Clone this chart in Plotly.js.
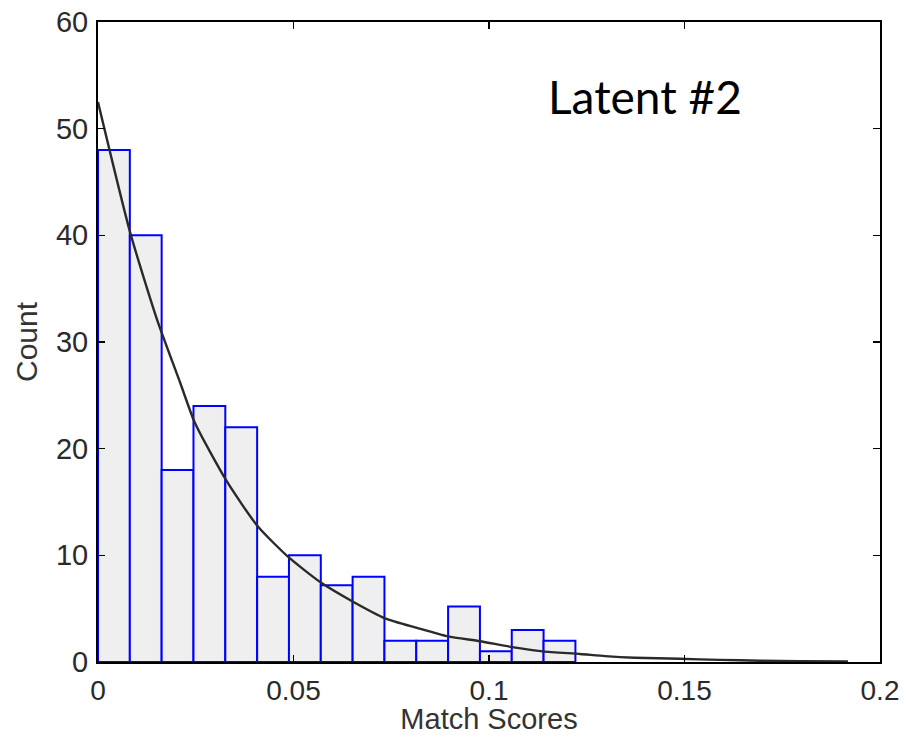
<!DOCTYPE html>
<html>
<head>
<meta charset="utf-8">
<script src="https://cdn.plot.ly/plotly-3.0.1.min.js"></script>
<style>
  html, body { margin: 0; padding: 0; background: #ffffff; }
  #chart { width: 903px; height: 735px; }
</style>
</head>
<body>
<div id="chart"></div>
<script>
// Histogram bins (match score bin centres) and counts
const binCenters = [0.00407, 0.01221, 0.02035, 0.02849, 0.03663, 0.04477, 0.05291, 0.06105,
                    0.06919, 0.07733, 0.08547, 0.09361, 0.10175, 0.10989, 0.11803];
const binWidth = 0.00814;
const counts = [48, 40, 18, 24, 22, 8, 10, 7.2, 8, 2, 2, 5.2, 1, 3, 2];

// Fitted curve
const fitX = [0, 0.0082, 0.0151, 0.021, 0.0248, 0.033, 0.0409, 0.0488, 0.057, 0.065, 0.0734,
              0.0816, 0.0895, 0.0977, 0.1059, 0.1138, 0.1233, 0.1297, 0.1373, 0.1488,
              0.159, 0.1693, 0.1795, 0.1918];
const fitY = [52.5, 40.3, 32.1, 26.2, 22.4, 16.9, 12.7, 9.8, 7.45, 5.7, 4.1,
              3.2, 2.4, 1.95, 1.4, 1.0, 0.75, 0.55, 0.4, 0.3,
              0.2, 0.12, 0.08, 0.05];

// Axis ticks
const xTickVals = [0, 0.05, 0.1, 0.15, 0.2];
const xTickText = ['0', '0.05', '0.1', '0.15', '0.2'];
const yTickVals = [0, 10, 20, 30, 40, 50, 60];
const yTickText = ['0', '10', '20', '30', '40', '50', '60'];

const traces = [
  {
    type: 'bar',
    x: binCenters,
    y: counts,
    width: binCenters.map(() => binWidth),
    marker: { color: '#efefef', line: { color: '#0000ff', width: 2 } },
    hoverinfo: 'x+y',
    showlegend: false
  },
  {
    type: 'scatter',
    mode: 'lines',
    x: fitX,
    y: fitY,
    line: { color: '#2a2a2a', width: 2.4, shape: 'spline', smoothing: 0.6 },
    showlegend: false
  }
];

const FONT = 'Liberation Sans, Arial, Helvetica, sans-serif';

const layout = {
  width: 903,
  height: 735,
  margin: { l: 98, r: 23, t: 22, b: 73 },
  paper_bgcolor: '#ffffff',
  plot_bgcolor: '#ffffff',
  bargap: 0,
  xaxis: {
    range: [0, 0.2],
    tickvals: xTickVals,
    ticktext: xTickText,
    ticks: 'inside',
    ticklen: 7,
    tickwidth: 1.5,
    tickcolor: '#000',
    showline: true,
    linecolor: '#000',
    linewidth: 2,
    mirror: 'ticks',
    showgrid: false,
    zeroline: false,
    automargin: false,
    ticklabelstandoff: 2,
    tickfont: { family: FONT, size: 28, color: '#2a2a2a' },
    title: { text: 'Match Scores', font: { family: FONT, size: 29, color: '#333' }, standoff: 4 }
  },
  yaxis: {
    range: [0, 60],
    tickvals: yTickVals,
    ticktext: yTickText,
    ticks: 'inside',
    ticklen: 7,
    tickwidth: 1.5,
    tickcolor: '#000',
    showline: true,
    linecolor: '#000',
    linewidth: 2,
    mirror: 'ticks',
    showgrid: false,
    zeroline: false,
    automargin: false,
    ticklabelstandoff: 2,
    tickfont: { family: FONT, size: 29, color: '#2a2a2a' },
    title: { text: 'Count', font: { family: FONT, size: 30, color: '#333' }, standoff: 9 }
  },
  annotations: [
    {
      text: 'Latent #2',
      xref: 'paper', yref: 'paper',
      x: 0.70, y: 0.884,
      xanchor: 'center', yanchor: 'middle',
      showarrow: false,
      font: { family: 'Lato, Open Sans, sans-serif', size: 46, color: '#000' }
    }
  ]
};

Plotly.newPlot('chart', traces, layout, { displayModeBar: false, staticPlot: true });
</script>
</body>
</html>
